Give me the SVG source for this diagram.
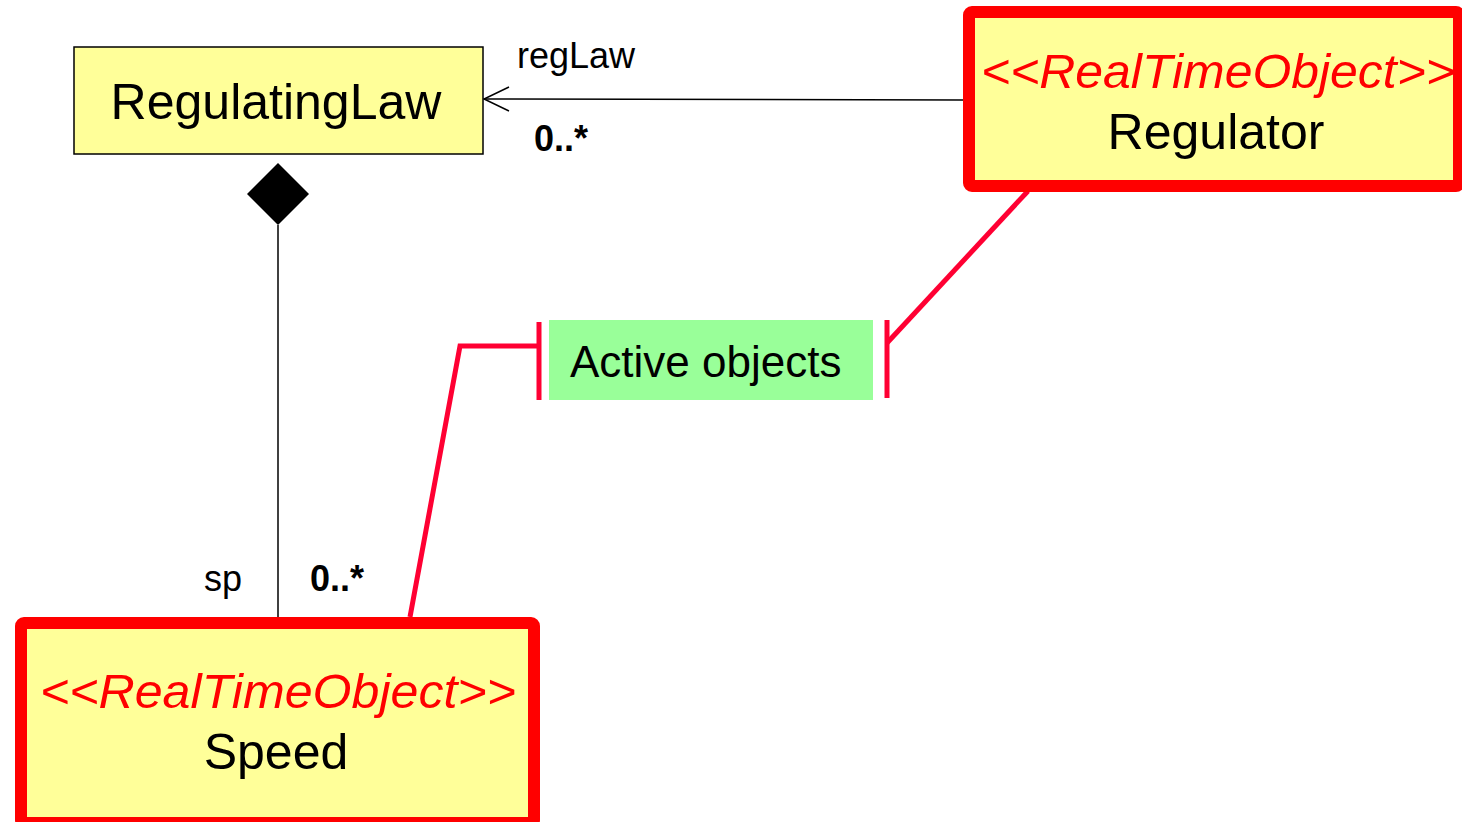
<svg xmlns="http://www.w3.org/2000/svg" width="1462" height="822" viewBox="0 0 1462 822">
  <style>
    .cls { fill: #FFFF99; }
    .rto { stroke: #FF0000; stroke-width: 12; stroke-linejoin: round; }
    .plain { stroke: #000000; stroke-width: 1.5; }
    .name { font-family: "Liberation Sans", Arial, sans-serif; font-size: 50px; fill: #000000; text-anchor: middle; }
    .stereo { font-family: "Liberation Sans", Arial, sans-serif; font-size: 48px; font-style: italic; fill: #FF0000; text-anchor: middle; }
    .label { font-family: "Liberation Sans", Arial, sans-serif; font-size: 36px; fill: #000000; }
    .mult { font-family: "Liberation Sans", Arial, sans-serif; font-size: 36px; font-weight: bold; fill: #000000; }
    .assoc { stroke: #000000; stroke-width: 1.5; fill: none; }
    .note { stroke: #FF0033; stroke-width: 5; fill: none; stroke-linejoin: miter; }
  </style>

  <!-- connectors -->
  <g id="connectors">
    <!-- Regulator -> RegulatingLaw (navigable association) -->
    <line class="assoc" x1="963" y1="100" x2="484" y2="99"/>
    <polyline class="assoc" points="509,87 484,99 509,111"/>
    <text class="label" x="517" y="68">regLaw</text>
    <text class="mult" x="534" y="151">0..*</text>

    <!-- RegulatingLaw composition Speed -->
    <polygon points="278,163 309,194 278,225 247,194" fill="#000000"/>
    <line class="assoc" x1="278" y1="225" x2="278" y2="617"/>
    <text class="label" x="204" y="591">sp</text>
    <text class="mult" x="310" y="591">0..*</text>

    <!-- note links to the active objects label -->
    <polyline class="note" points="410,617 460,346 539,346"/>
    <line class="note" x1="539" y1="322" x2="539" y2="400"/>
    <polyline class="note" points="1028,191 887,343"/>
    <line class="note" x1="887" y1="320" x2="887" y2="398"/>
  </g>

  <g id="RegulatingLaw">
    <rect class="cls plain" x="74" y="47" width="409" height="107"/>
    <text class="name" x="276" y="119">RegulatingLaw</text>
  </g>

  <g id="Regulator">
    <rect class="cls rto" x="969" y="12" width="490" height="174" rx="3"/>
    <text class="stereo" x="1218" y="88" textLength="474" lengthAdjust="spacingAndGlyphs">&lt;&lt;RealTimeObject&gt;&gt;</text>
    <text class="name" x="1216" y="149">Regulator</text>
  </g>

  <g id="Speed">
    <rect class="cls rto" x="21" y="623" width="513" height="200" rx="3"/>
    <text class="stereo" x="278" y="708" textLength="476" lengthAdjust="spacingAndGlyphs">&lt;&lt;RealTimeObject&gt;&gt;</text>
    <text class="name" x="276" y="769">Speed</text>
  </g>

  <g id="ActiveObjects">
    <rect x="549" y="320" width="324" height="80" fill="#99FF99"/>
    <text x="570" y="377" font-family="Liberation Sans, Arial, sans-serif" font-size="44" fill="#000000">Active objects</text>
  </g>
</svg>
